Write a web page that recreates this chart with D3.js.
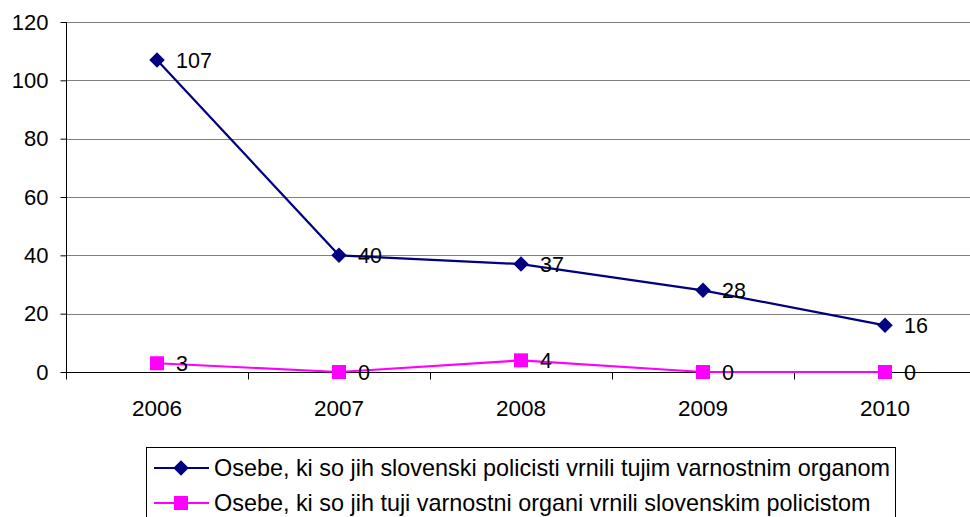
<!DOCTYPE html>
<html>
<head>
<meta charset="utf-8">
<script src="https://cdn.jsdelivr.net/npm/d3@7"></script>
<style>
  body { margin: 0; background: #fff; }
  svg { display: block; font-family: 'Liberation Sans', Arial, sans-serif; }
</style>
</head>
<body>
<svg id="chart" width="970" height="517"></svg>
<script>
'use strict';

var years = ['2006', '2007', '2008', '2009', '2010'];
var returnedByUs = [107, 40, 37, 28, 16];
var returnedToUs = [3, 0, 4, 0, 0];
var yTicks = [0, 20, 40, 60, 80, 100, 120];
var seriesNames = [
  'Osebe, ki so jih slovenski policisti vrnili tujim varnostnim organom',
  'Osebe, ki so jih tuji varnostni organi vrnili slovenskim policistom'
];

(function () {
  var svg = d3.select('#chart');
  var left = 66, top = 22, plotW = 910, plotH = 350;

  var g = svg.append('g').attr('transform', 'translate(' + left + ',' + top + ')');

  var x = d3.scaleBand().domain(years).range([0, plotW]);
  var y = d3.scaleLinear().domain([0, 120]).range([plotH, 0]);

  // gridlines
  g.append('g').selectAll('line').data(yTicks).enter().append('line')
    .attr('x1', 0).attr('x2', plotW)
    .attr('y1', function (d) { return Math.round(y(d)) + 0.5; })
    .attr('y2', function (d) { return Math.round(y(d)) + 0.5; })
    .attr('stroke', '#808080').attr('stroke-width', 1);

  // y axis
  var yAxis = d3.axisLeft(y).tickValues(yTicks).tickSize(6).tickPadding(12);
  var yG = g.append('g').attr('transform', 'translate(0.5,0)').call(yAxis);
  yG.select('.domain').attr('stroke', '#000').attr('d', 'M0,' + (plotH + 1) + 'V' + y(120));
  yG.selectAll('.tick line').attr('stroke', '#000');
  yG.selectAll('.tick text').attr('font-size', 22).attr('font-family', 'Liberation Sans, Arial, sans-serif').attr('fill', '#000');

  // x axis
  var xG = g.append('g').attr('transform', 'translate(0,' + (Math.round(y(0)) + 0.5) + ')');
  xG.append('line').attr('x1', 0).attr('x2', plotW).attr('stroke', '#000');
  var bounds = d3.range(years.length + 1).map(function (i) { return i * x.bandwidth(); });
  xG.selectAll('line.tk').data(bounds).enter().append('line').attr('class', 'tk')
    .attr('x1', function (d) { return Math.round(d) + 0.5; })
    .attr('x2', function (d) { return Math.round(d) + 0.5; })
    .attr('y1', 0).attr('y2', 7).attr('stroke', '#000');
  xG.selectAll('text').data(years).enter().append('text')
    .attr('x', function (d) { return x(d) + x.bandwidth() / 2; })
    .attr('y', 43)
    .attr('text-anchor', 'middle').attr('font-size', 22.5).text(function (d) { return d; });

  var cx = function (d, i) { return x(years[i]) + x.bandwidth() / 2; };

  function drawSeries(values, color, shape) {
    var line = d3.line().x(function (d, i) { return cx(d, i); }).y(function (d) { return y(d); });
    g.append('path').datum(values).attr('d', line).attr('fill', 'none')
      .attr('stroke', color).attr('stroke-width', 2.2);
    var sym = d3.symbol().type(d3.symbolSquare).size(shape === 'diamond' ? 120 : 196);
    g.append('g').selectAll('path').data(values).enter().append('path')
      .attr('d', sym)
      .attr('transform', function (d, i) {
        return 'translate(' + cx(d, i) + ',' + y(d) + ')' + (shape === 'diamond' ? ' rotate(45)' : '');
      })
      .attr('fill', color);
    g.append('g').selectAll('text').data(values).enter().append('text')
      .attr('x', function (d, i) { return cx(d, i) + 19; })
      .attr('y', function (d) { return y(d); })
      .attr('dy', '0.36em').attr('font-size', 21.5).attr('fill', '#000')
      .text(function (d) { return d; });
  }

  drawSeries(returnedByUs, '#000080', 'diamond');
  drawSeries(returnedToUs, '#FF00FF', 'square');

  // legend
  var lg = svg.append('g');
  lg.append('rect').attr('x', 146.5).attr('y', 447.5).attr('width', 749).attr('height', 80)
    .attr('fill', '#fff').attr('stroke', '#000').attr('stroke-width', 1);
  var colors = ['#000080', '#FF00FF'];
  seriesNames.forEach(function (name, i) {
    var cy = 468 + i * 35;
    lg.append('line').attr('x1', 154).attr('x2', 209).attr('y1', cy).attr('y2', cy)
      .attr('stroke', colors[i]).attr('stroke-width', 2.2);
    lg.append('path')
      .attr('d', d3.symbol().type(d3.symbolSquare).size(i === 0 ? 120 : 196))
      .attr('transform', 'translate(181,' + cy + ')' + (i === 0 ? ' rotate(45)' : ''))
      .attr('fill', colors[i]);
    lg.append('text').attr('x', 214).attr('y', cy).attr('dy', '0.36em')
      .attr('font-size', 23.4).attr('fill', '#000').text(name);
  });
})();
</script>
</body>
</html>
